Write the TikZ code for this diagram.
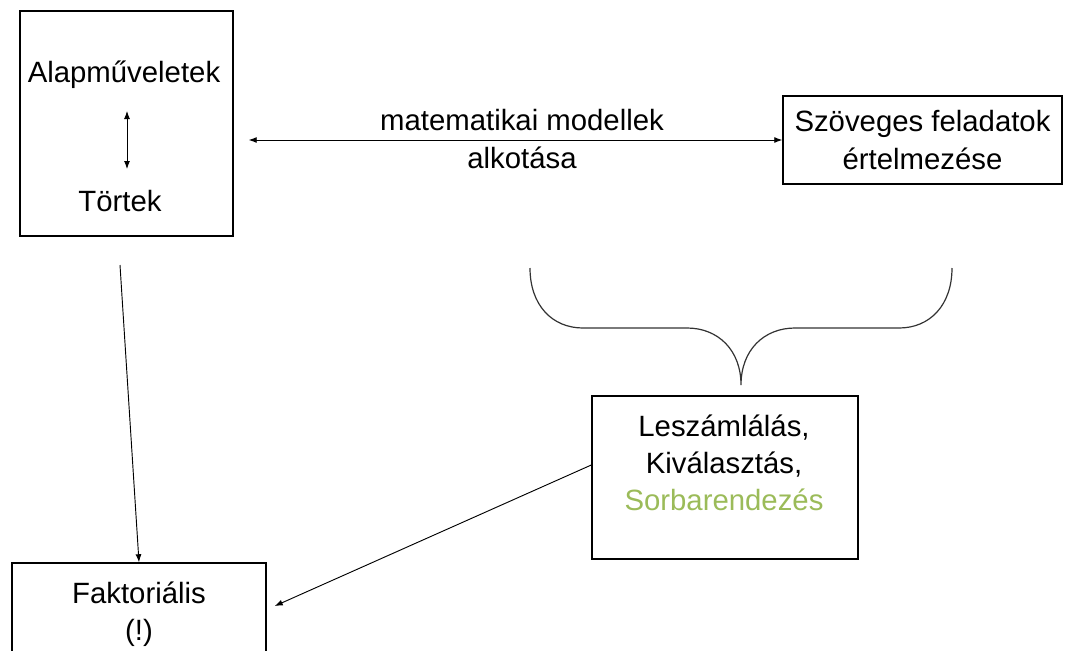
\documentclass[tikz,border=0pt]{standalone}
\usepackage{fontspec}
\setmainfont{Liberation Sans}
\usetikzlibrary{arrows.meta}
\definecolor{ogreen}{HTML}{9BBB59}
\begin{document}
\begin{tikzpicture}[x=0.75pt,y=-0.75pt,
  box/.style={draw,line width=1.1pt,inner sep=0pt},
  lbl/.style={font=\fontsize{22}{28}\selectfont,align=center,inner sep=0pt},
  conn/.style={line width=0.7pt,-{Latex[length=6pt,width=4.5pt]}},
  dconn/.style={line width=0.7pt,{Latex[length=6pt,width=4.5pt]}-{Latex[length=6pt,width=4.5pt]}}]
\clip (0,0) rectangle (1073,650);
\useasboundingbox (0,0) rectangle (1073,650);
% boxes
\node[box,minimum width=213*0.75pt,minimum height=225*0.75pt] (lbox) at (126.5,123.5) {};
\node[box,minimum width=279*0.75pt,minimum height=88*0.75pt,lbl] (rbox) at (922.5,140) {Szöveges feladatok\\értelmezése};
\node[box,minimum width=266*0.75pt,minimum height=163*0.75pt] (mbox) at (725,477.5) {};
\node[box,minimum width=254*0.75pt,minimum height=120*0.75pt] (fbox) at (139,623) {};
% texts
\node[lbl] (alap) at (124,75) {Alapműveletek};
\node[lbl] (tort) at (120,201) {Törtek};
\node[lbl] (mtext) at (724,463) {Leszámlálás,\\Kiválasztás,\\\textcolor{ogreen}{Sorbarendezés}};
\node[lbl] (ftext) at (139,614) {Faktoriális\\(!)};
\node[lbl] (model) at (522,139) {matematikai modellek\\alkotása};
% arrows
\coordinate (ua) at (127,111);
\coordinate (da) at (127,169);
\draw[dconn] (ua) -- (da);
\draw[dconn] ([xshift=15*0.75pt]lbox.east |- rbox.west) -- (rbox.west);
\coordinate (ls) at (120,265);
\draw[conn] (ls) -- (fbox.north);
\draw[conn] ([yshift=12.5*0.75pt]mbox.west) -- ([xshift=8*0.75pt,yshift=17*0.75pt]fbox.east);
% brace
\draw[line width=0.9pt,black!80] (530,268) .. controls (530,305) and (552,328) .. (583,328) -- (687,328)
  .. controls (718,328) and (741,350) .. (741,385)
  .. controls (741,350) and (764,328) .. (795,328) -- (899,328)
  .. controls (930,328) and (952,305) .. (952,268);
\end{tikzpicture}
\end{document}
